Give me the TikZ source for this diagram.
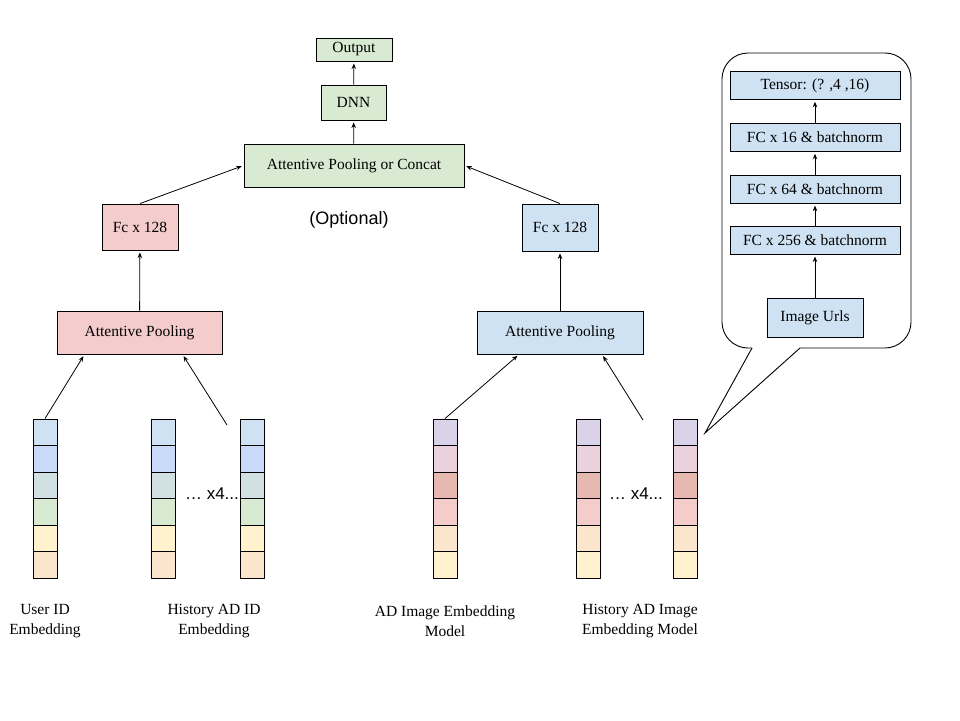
\documentclass[tikz,border=0pt]{standalone}
\usepackage{fontspec}
\setmainfont{Liberation Serif}
\setsansfont{Liberation Sans}
\definecolor{gdGreen}{HTML}{D9EAD3}
\definecolor{gdRed}{HTML}{F4CCCC}
\definecolor{gdBlue}{HTML}{CFE2F3}
\definecolor{gdCorn}{HTML}{C9DAF8}
\definecolor{gdCyan}{HTML}{D0E0E3}
\definecolor{gdYellow}{HTML}{FFF2CC}
\definecolor{gdOrange}{HTML}{FCE5CD}
\definecolor{gdPurple}{HTML}{D9D2E9}
\definecolor{gdMagenta}{HTML}{EAD1DC}
\definecolor{gdBerry}{HTML}{E6B8AF}
\usepackage{tikz}
\usetikzlibrary{positioning, arrows.meta}

\begin{document}
\begin{tikzpicture}[
    x=1pt, y=-1pt,
    font=\fontsize{15.5}{20}\selectfont,
    block/.style={rectangle, draw=black, line width=0.9pt, inner sep=0pt,
                  align=center},
    wide/.style={block, fill=gdBlue, minimum width=170pt, minimum height=28pt},
    cell/.style={rectangle, draw=black, line width=0.9pt, inner sep=0pt,
                 minimum width=24pt, minimum height=26.5pt},
    link/.style={-{Stealth[length=5.5pt, width=4.5pt]}, line width=0.8pt,
                 shorten >=2pt},
    note/.style={font=\sffamily\fontsize{17}{20}\selectfont},
  ]
    \useasboundingbox (0,0) rectangle (960,720);

    % head of the model
    \node[block, fill=gdGreen, minimum width=76pt, minimum height=23pt] (OUT) at (354,49.5) {Output};
    \node[block, fill=gdGreen, minimum width=65pt, minimum height=35pt] (DNN) at (353.5,102.5) {DNN};
    \node[block, fill=gdGreen, minimum width=220pt, minimum height=43pt] (APC) at (354,165.5)
      {Attentive Pooling or Concat};
    \node[note, font=\sffamily\fontsize{18}{20}\selectfont] (OPT) at (349,220) {(Optional)};

    % two towers
    \node[block, fill=gdRed, minimum width=76pt, minimum height=46pt] (FCL) at (140,227) {Fc x 128};
    \node[block, fill=gdRed, minimum width=165pt, minimum height=43pt] (APL) at (139.5,332.5) {Attentive Pooling};
    \node[block, fill=gdBlue, minimum width=76pt, minimum height=47pt] (FCR) at (560,227.5) {Fc x 128};
    \node[block, fill=gdBlue, minimum width=166pt, minimum height=43pt] (APR) at (560,332.5) {Attentive Pooling};

    % embedding columns
    \foreach \col/\cx in {UID/45, HID/163, HIDB/252.5}
      \foreach \c [count=\i] in {gdBlue, gdCorn, gdCyan, gdGreen, gdYellow, gdOrange}
        \node[cell, fill=\c] (\col-\i) at (\cx, {419+26.5*(\i-0.5)}) {};
    \foreach \col/\cx in {ADI/445, HAI/588.5, HAIB/685.5}
      \foreach \c [count=\i] in {gdPurple, gdMagenta, gdBerry, gdRed, gdOrange, gdYellow}
        \node[cell, fill=\c] (\col-\i) at (\cx, {419+26.5*(\i-0.5)}) {};
    \node[note] (MOREL) at (212,494) {… x4...};
    \node[note] (MORER) at (636,494) {… x4...};

    \node[align=center] (LUID) at (45,621) {User ID\\Embedding};
    \node[align=center] (LHID) at (214,621) {History AD ID\\Embedding};
    \node[align=center] (LADI) at (445,621) {AD Image Embedding\\Model};
    \node[align=center] (LHAI) at (640,621) {History AD Image\\Embedding Model};

    \coordinate (HIDTAIL) at (227,425);
    \coordinate (HAITAIL) at (643,420);

    % image embedding model (bubble)
    \draw[line width=0.9pt, rounded corners=26pt] (752,348) -- (722,348) -- (722,53)
      -- (911,53) -- (911,348) -- (800,348);
    \draw[line width=0.9pt, line join=miter] (752,348) -- (705,433) -- (800,348);
    \node[block, fill=gdBlue, minimum width=96pt, minimum height=39pt] (URL) at (815,317.5) {Image Urls};
    \node[wide, above=43pt of URL] (FC256) {FC x 256 \& batchnorm};
    \node[wide, above=22pt of FC256] (FC64) {FC x 64 \& batchnorm};
    \node[wide, above=23pt of FC64] (FC16) {FC x 16 \& batchnorm};
    \node[wide, above=23pt of FC16] (TEN) {Tensor: (? ,4 ,16)};

    % connectors
    \draw[link] (DNN) -- (OUT);
    \draw[link] (APC) -- (DNN);
    \draw[link] (FCL.north) -- (APC.west);
    \draw[link] (FCR.north) -- (APC.east);
    \draw[link] (APL) -- (FCL);
    \draw[link] (APR) -- (FCR);
    \draw[link] (UID-1.north) -- ([xshift=-55pt]APL.south);
    \draw[link] (HIDTAIL) -- ([xshift=43pt]APL.south);
    \draw[link] (ADI-1.north) -- ([xshift=-41pt]APR.south);
    \draw[link] (HAITAIL) -- ([xshift=42pt]APR.south);
    \draw[link] (URL) -- (FC256);
    \draw[link] (FC256) -- (FC64);
    \draw[link] (FC64) -- (FC16);
    \draw[link] (FC16) -- (TEN);
  \end{tikzpicture}
\end{document}
